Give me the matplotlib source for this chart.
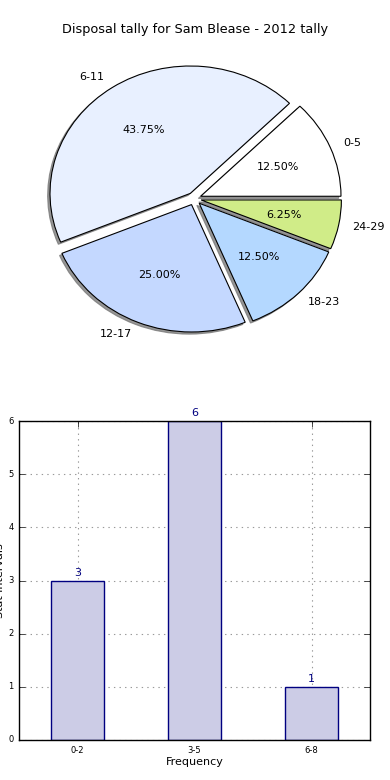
import matplotlib
matplotlib.use("Agg")
import matplotlib.pyplot as plt

# === Data ===
pie_labels = ["0-5", "6-11", "12-17", "18-23", "24-29"]
pie_values = [2, 7, 4, 2, 1]
pie_colors = ["#ffffff", "#e8f0ff", "#c4d8ff", "#b4d8ff", "#d0ec88"]

bar_labels = ["0-2", "3-5", "6-8"]
bar_values = [3, 6, 1]

title = "Disposal tally for Sam Blease - 2012 tally"

# === Figure ===
plt.style.use("classic")
plt.rcParams["font.family"] = "DejaVu Sans"
fig = plt.figure(figsize=(3.9, 7.8), dpi=100, facecolor="white")

# --- Pie (not equal aspect: slightly squashed like the original) ---
ax1 = fig.add_axes([0.0, 0.5, 1.0, 0.5])
ax1.set_facecolor("white")
wedges, texts, autotexts = ax1.pie(
    pie_values, labels=pie_labels, colors=pie_colors,
    explode=[0.05] * len(pie_values), autopct="%.2f%%",
    shadow={"ox": -0.012, "oy": -0.012, "color": "0.45", "alpha": 0.75},
    startangle=0, radius=1.0,
    wedgeprops={"linewidth": 0.8, "edgecolor": "black"},
    textprops={"fontsize": 8},
)
ax1.set_aspect("auto")
# pixel layout: center ~ (194, 199), 140 px/unit across, 127 px/unit down
sx, sy = 140.3, 127.4
cx, cy = 194.2, 198.7
ax1.set_xlim(-cx / sx, (390 - cx) / sx)
ax1.set_ylim(-(390 - cy) / sy, cy / sy)
ax1.axis("off")
fig.text(0.5, 1 - 30 / 780, title, ha="center", va="center", fontsize=9.3)

# --- Bars ---
ax2 = fig.add_axes([19 / 390, 40 / 780, 351 / 390, 319 / 780])
ax2.set_facecolor("white")
x = list(range(len(bar_values)))
bars = ax2.bar(x, bar_values, width=0.45, align="center",
               color=(0.8, 0.8, 0.9), edgecolor="navy", linewidth=1.0)
ax2.set_xlim(-0.5, 2.5)
ax2.set_ylim(0, 6)
ax2.set_xticks(x)
ax2.set_xticklabels(bar_labels)
ax2.tick_params(axis="both", labelsize=6, direction="in")
ax2.grid(True, linestyle=":", color="0.6", linewidth=0.8)
ax2.set_axisbelow(True)
ax2.set_xlabel("Frequency", fontsize=8, labelpad=2)
ax2.set_ylabel("Stat intervals", fontsize=8, labelpad=2)

for bar in bars:
    h = bar.get_height()
    ax2.annotate(f"{int(h)}", xy=(bar.get_x() + bar.get_width() / 2, h),
                 xytext=(0, 2), textcoords="offset points",
                 ha="center", va="bottom", fontsize=8, color="navy")

fig.savefig("out.png", dpi=100, facecolor="white")
